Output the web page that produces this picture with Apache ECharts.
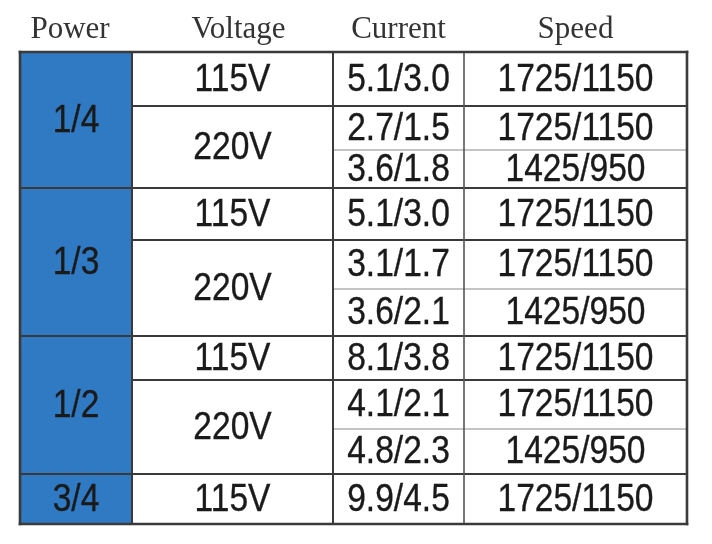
<!DOCTYPE html>
<html>
<head>
  <meta charset="UTF-8" />
  <title>Motor ratings</title>
  <script src="https://cdn.jsdelivr.net/npm/echarts@6/dist/echarts.min.js"></script>
  <style>
    html, body { margin: 0; height: 100%; background-color: #fff; }
    #main { width: 712px; height: 544px; }
  </style>
</head>
<body>
  <div id="main"></div>
  <script>
    const headers = ['Power', 'Voltage', 'Current', 'Speed'];
    const powerLabels = ['1/4', '1/3', '1/2', '3/4'];
    const voltageLabels = ['115V', '220V', '115V', '220V', '115V', '220V', '115V'];
    const voltageGroup = [0, 0, 1, 1, 2, 2, 3];      // which power block each voltage belongs to
    const voltageRowCount = [1, 2, 1, 2, 1, 2, 1];   // sub-rows spanned by each voltage
    const currentLabels = ['5.1/3.0', '2.7/1.5', '3.6/1.8', '5.1/3.0', '3.1/1.7', '3.6/2.1', '8.1/3.8', '4.1/2.1', '4.8/2.3', '9.9/4.5'];
    const speedLabels = ['1725/1150', '1725/1150', '1425/950', '1725/1150', '1725/1150', '1425/950', '1725/1150', '1725/1150', '1425/950', '1725/1150'];

    // layout only: relative widths of columns and heights of sub-rows
    const colWidths = [112, 201, 131, 223];
    const rowHeights = [54, 44, 38, 52, 49, 47, 44, 49, 45, 50];
    // header nudges (left/right padding) so they sit like the print
    const headerPad = [[0, 12], [12, 0], [0, 0], [0, 0]];

    const colEdges = [0];
    colWidths.forEach(w => colEdges.push(colEdges[colEdges.length - 1] + w));
    const rowEdges = [0];
    rowHeights.forEach(h => rowEdges.push(rowEdges[rowEdges.length - 1] + h));
    const colCenters = colWidths.map((w, i) => colEdges[i] + w / 2);

    // cells
    const cells = [];
    const powerStart = [], powerEnd = [];
    const voltageEnd = [];
    let r = 0;
    voltageLabels.forEach((v, i) => {
      const g = voltageGroup[i];
      if (powerStart[g] === undefined) powerStart[g] = r;
      cells.push({ col: 1, r0: r, r1: r + voltageRowCount[i], text: v });
      r += voltageRowCount[i];
      voltageEnd.push(r);
      powerEnd[g] = r;
    });
    powerLabels.forEach((p, g) => {
      cells.push({ col: 0, r0: powerStart[g], r1: powerEnd[g], text: p, fill: '#2f7ac3' });
    });
    currentLabels.forEach((c, i) => cells.push({ col: 2, r0: i, r1: i + 1, text: c }));
    speedLabels.forEach((s, i) => cells.push({ col: 3, r0: i, r1: i + 1, text: s }));

    // grid lines
    const DARK = '#3a3a3a';
    const lines = [];
    for (let k = 1; k < rowHeights.length; k++) {
      let from, color = DARK, width = 2;
      if (powerEnd.indexOf(k) >= 0) from = 0;
      else if (voltageEnd.indexOf(k) >= 0) from = 1;
      else { from = 2; color = '#8a8a8a'; width = 1.2; }
      lines.push({ x0: colEdges[from], y0: rowEdges[k], x1: colEdges[4], y1: rowEdges[k], color, width });
    }
    lines.push({ x0: colEdges[1], y0: 0, x1: colEdges[1], y1: rowEdges[10], color: DARK, width: 2 });
    lines.push({ x0: colEdges[2], y0: 0, x1: colEdges[2], y1: rowEdges[10], color: DARK, width: 2 });
    lines.push({ x0: colEdges[3], y0: 0, x1: colEdges[3], y1: rowEdges[10], color: '#555', width: 1.6 });
    // outer frame
    const L = colEdges[0], R = colEdges[4], T = rowEdges[0], B = rowEdges[10];
    [[L, T, R, T], [R, T, R, B], [R, B, L, B], [L, B, L, T]].forEach(s => {
      lines.push({ x0: s[0], y0: s[1], x1: s[2], y1: s[3], color: DARK, width: 2.6 });
    });

    const headerRich = {};
    headers.forEach((h, i) => {
      headerRich['h' + i] = {
        fontFamily: '"Liberation Serif", "DejaVu Serif", serif',
        fontSize: 31,
        color: '#333',
        padding: [0, headerPad[i][1], 0, headerPad[i][0]]
      };
    });

    const chart = echarts.init(document.getElementById('main'));

    chart.setOption({
      backgroundColor: '#fff',
      animation: false,
      grid: { left: 20, right: 25, top: 52, bottom: 20 },
      xAxis: {
        type: 'value',
        position: 'top',
        min: 0,
        max: colEdges[4],
        axisLine: { show: false },
        axisTick: { show: false },
        splitLine: { show: false },
        axisLabel: {
          customValues: colCenters,
          formatter: v => {
            let best = 0;
            colCenters.forEach((c, i) => { if (Math.abs(c - v) < Math.abs(colCenters[best] - v)) best = i; });
            return '{h' + best + '|' + headers[best] + '}';
          },
          rich: headerRich,
          margin: 7
        }
      },
      yAxis: {
        type: 'value',
        inverse: true,
        min: 0,
        max: rowEdges[10],
        show: false
      },
      series: [
        {
          type: 'custom',
          clip: false,
          data: cells.map(c => [colEdges[c.col], colEdges[c.col + 1], rowEdges[c.r0], rowEdges[c.r1]]),
          encode: { x: [0, 1], y: [2, 3] },
          renderItem: (params, api) => {
            const c = cells[params.dataIndex];
            const p0 = api.coord([api.value(0), api.value(2)]);
            const p1 = api.coord([api.value(1), api.value(3)]);
            return {
              type: 'group',
              children: [
                {
                  type: 'rect',
                  shape: { x: p0[0], y: p0[1], width: p1[0] - p0[0], height: p1[1] - p0[1] },
                  style: { fill: c.fill || '#fff' }
                },
                {
                  type: 'text',
                  x: (p0[0] + p1[0]) / 2,
                  y: (p0[1] + p1[1]) / 2 + 1,
                  scaleX: 0.86,
                  style: {
                    text: c.text,
                    font: '39px "Liberation Sans", Arial, sans-serif',
                    fill: '#1a1a1a',
                    stroke: '#1a1a1a',
                    lineWidth: 0.35,
                    align: 'center',
                    verticalAlign: 'middle'
                  }
                }
              ]
            };
          }
        },
        {
          type: 'custom',
          clip: false,
          z: 5,
          data: lines.map(l => [l.x0, l.y0, l.x1, l.y1]),
          encode: { x: [0, 2], y: [1, 3] },
          renderItem: (params, api) => {
            const l = lines[params.dataIndex];
            const a = api.coord([api.value(0), api.value(1)]);
            const b = api.coord([api.value(2), api.value(3)]);
            return {
              type: 'line',
              shape: { x1: a[0], y1: a[1], x2: b[0], y2: b[1] },
              style: { stroke: l.color, lineWidth: l.width, lineCap: 'square' }
            };
          }
        }
      ]
    });
  </script>
</body>
</html>
